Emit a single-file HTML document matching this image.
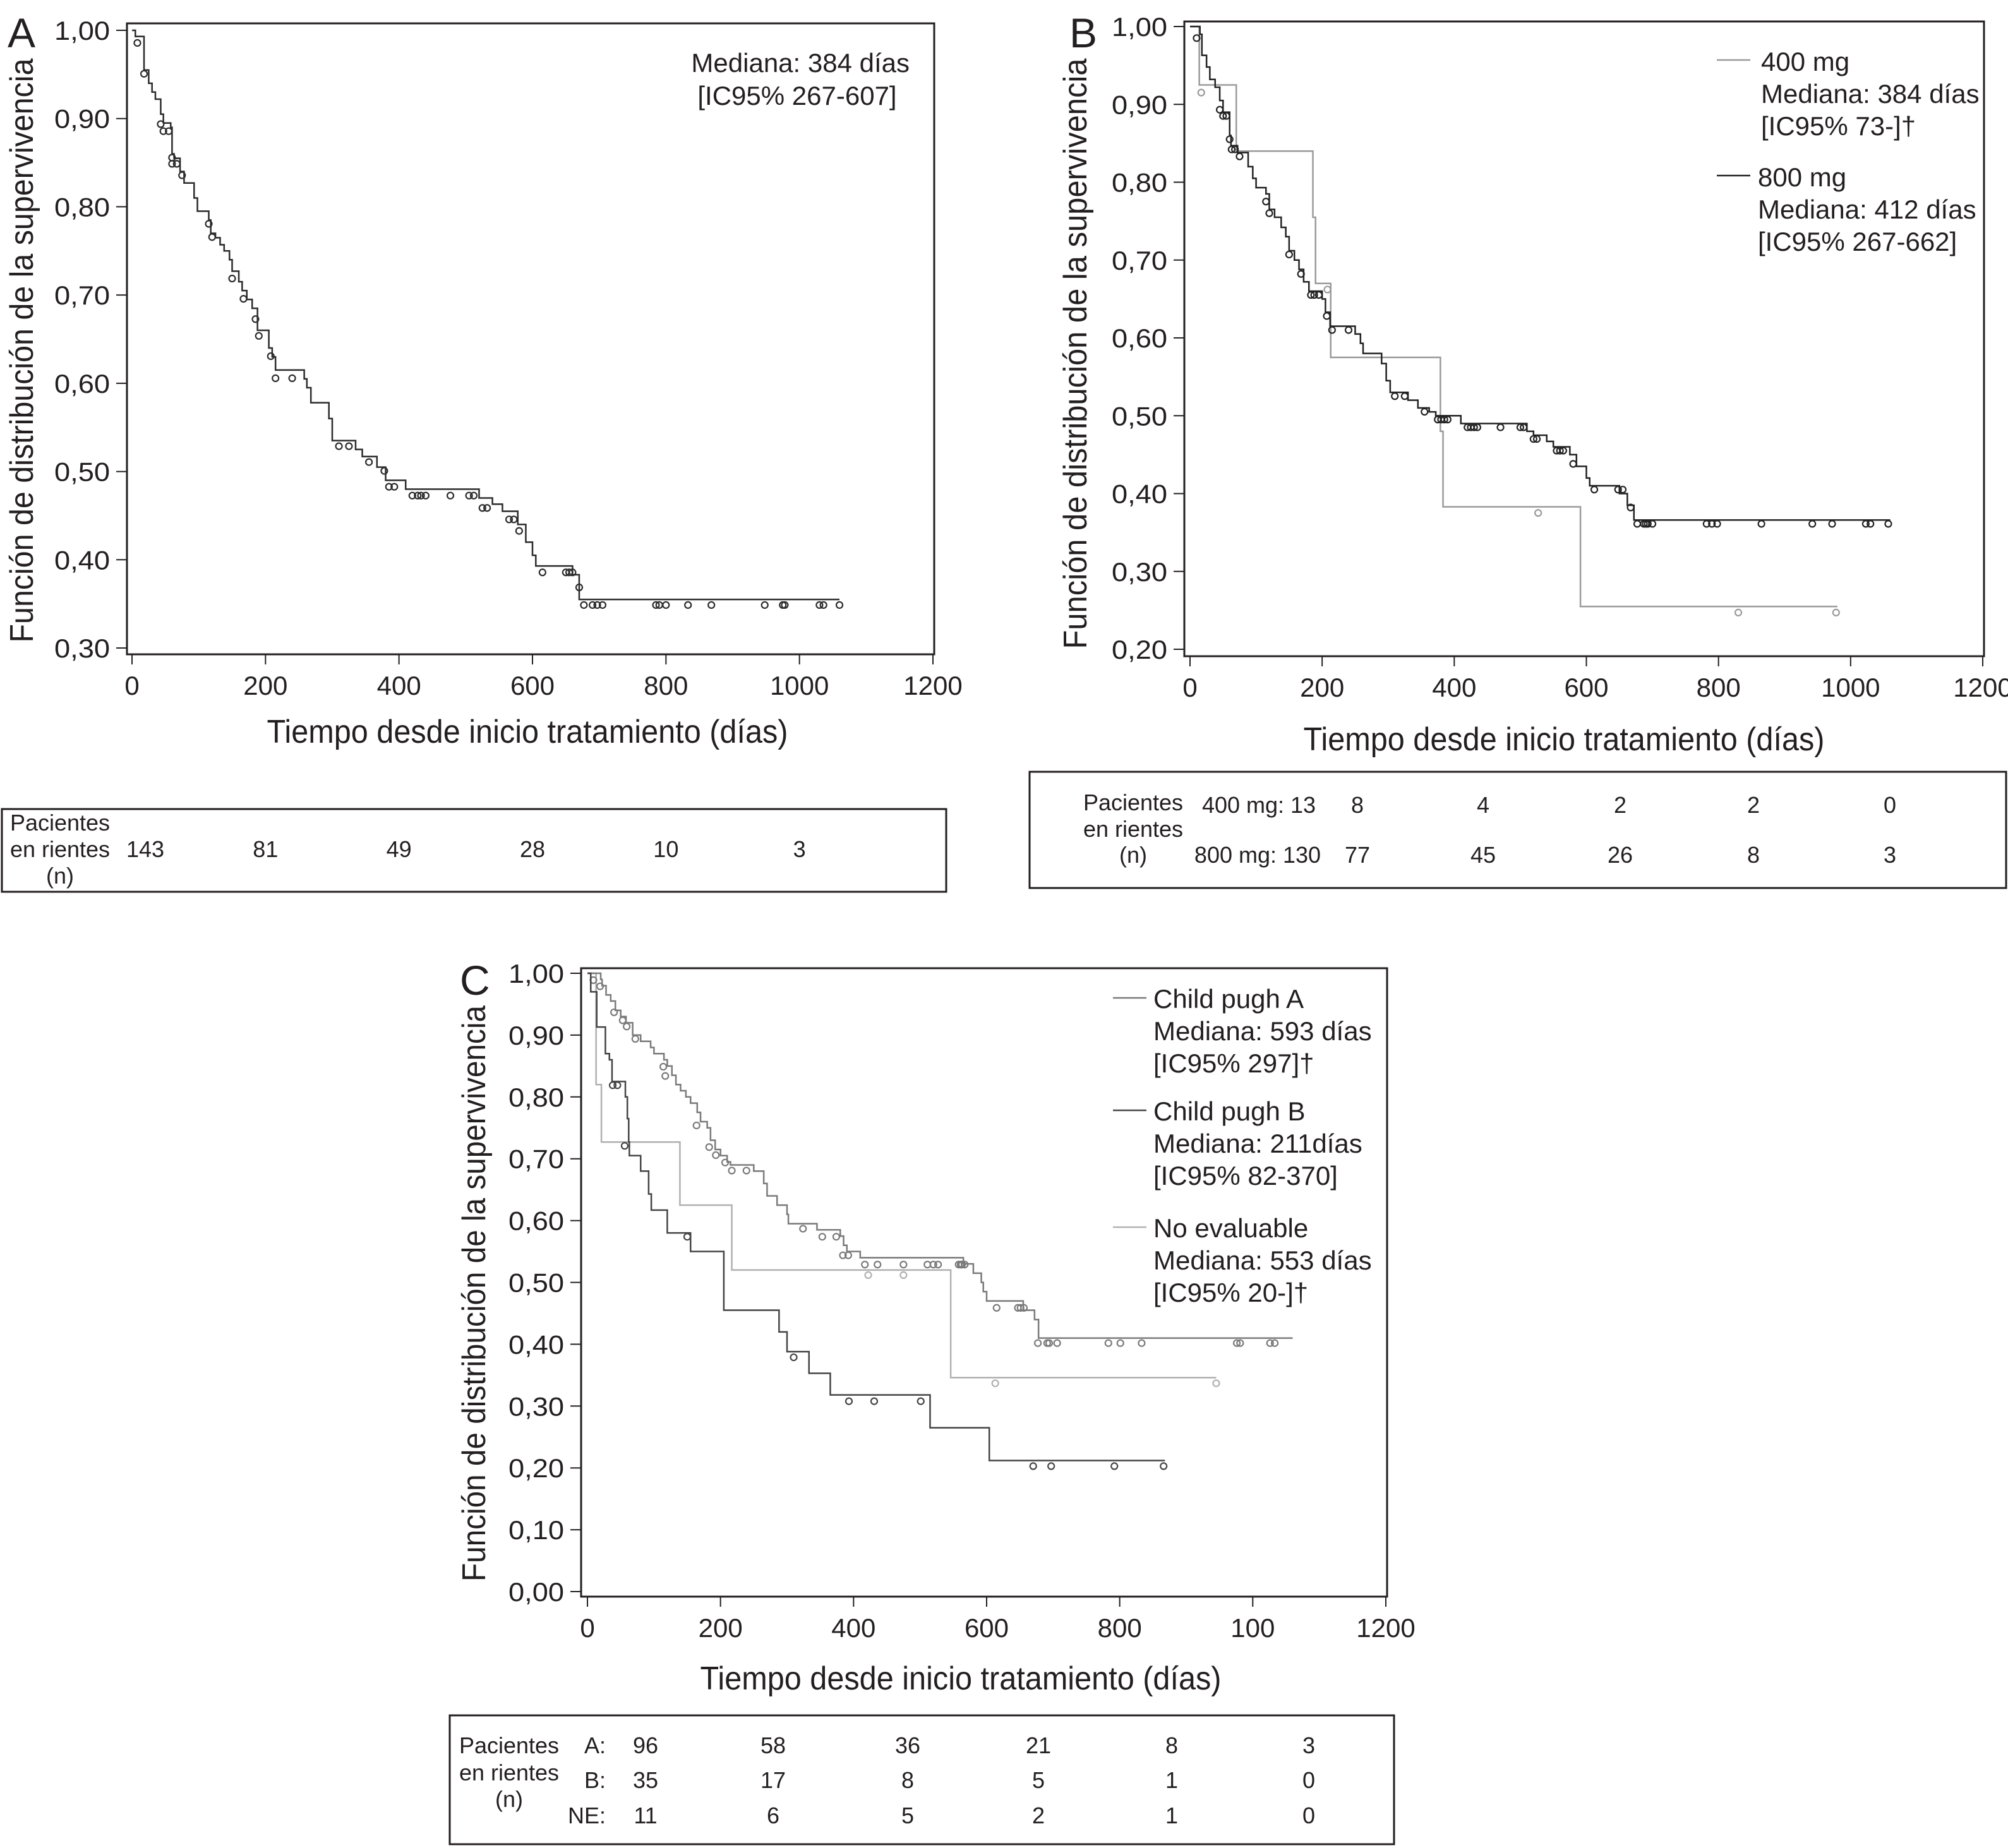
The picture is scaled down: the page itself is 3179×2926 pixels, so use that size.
<!DOCTYPE html>
<html><head><meta charset="utf-8"><style>
html,body{margin:0;padding:0;background:#fff}
svg{display:block}
text{font-family:"Liberation Sans",sans-serif;fill:#231f20}
</style></head><body>
<svg id="chart" width="3179" height="2926" viewBox="0 0 3179 2926" xmlns="http://www.w3.org/2000/svg">
<g id="gA"></g>
<g id="gB"></g>
<g id="gC"></g>
</svg>
<script>
// ---------- Panel A data ----------
const aTimes=[0,5,18,25,30,35,43,47,58,60,63,72,78,93,98,115,118,125,132,138,146,150,160,165,172,180,188,205,210,215,258,262,268,295,300,335,345,367,380,410,520,540,555,578,590,600,605,660,670,1060];
const aSurv=[1,0.993,0.955,0.94,0.93,0.922,0.905,0.895,0.89,0.86,0.855,0.84,0.827,0.81,0.795,0.785,0.77,0.765,0.757,0.75,0.74,0.727,0.715,0.705,0.695,0.685,0.66,0.64,0.63,0.615,0.605,0.595,0.578,0.56,0.535,0.525,0.517,0.505,0.49,0.48,0.47,0.463,0.455,0.44,0.42,0.405,0.393,0.383,0.355,0.355];
const aCensT=[8,18,43,47,55,60,60,67,75,115,120,150,167,185,190,208,215,240,310,325,355,378,385,393,420,428,433,440,477,505,512,525,532,565,572,580,615,650,655,660,670,677,690,697,705,785,790,800,833,868,948,975,978,1030,1036,1060];
const aCensS=[0.99,0.955,0.898,0.89,0.89,0.86,0.853,0.853,0.84,0.785,0.77,0.723,0.70,0.677,0.658,0.635,0.61,0.61,0.533,0.533,0.515,0.505,0.487,0.487,0.477,0.477,0.477,0.477,0.477,0.477,0.477,0.463,0.463,0.45,0.45,0.437,0.39,0.39,0.39,0.39,0.373,0.353,0.353,0.353,0.353,0.353,0.353,0.353,0.353,0.353,0.353,0.353,0.353,0.353,0.353,0.353];
const aRisk=[143,81,49,28,10,3];
// ---------- Panel B data ----------
const b800Times=[0,15,18,25,30,38,45,50,60,62,72,88,95,100,115,120,128,138,145,150,158,165,172,180,200,205,212,250,258,262,290,297,303,330,345,362,372,410,510,520,540,550,575,585,600,605,650,662,672,1060];
const b800Surv=[1,0.99,0.963,0.948,0.932,0.922,0.905,0.89,0.86,0.847,0.838,0.82,0.805,0.793,0.785,0.765,0.755,0.742,0.73,0.712,0.70,0.688,0.672,0.66,0.65,0.633,0.615,0.605,0.593,0.58,0.567,0.545,0.53,0.52,0.51,0.505,0.50,0.49,0.48,0.475,0.467,0.46,0.45,0.435,0.42,0.41,0.40,0.385,0.366,0.366];
const b800CensT=[10,45,50,55,60,63,68,75,115,120,150,168,183,188,195,207,215,240,310,325,355,375,380,385,390,420,425,430,435,470,500,505,520,525,555,560,565,580,612,648,655,667,677,687,690,693,700,782,790,798,865,942,972,1023,1030,1057];
const b800CensS=[0.99,0.898,0.89,0.89,0.86,0.847,0.847,0.838,0.78,0.765,0.712,0.687,0.66,0.66,0.66,0.633,0.615,0.615,0.53,0.53,0.51,0.50,0.50,0.50,0.50,0.49,0.49,0.49,0.49,0.49,0.49,0.49,0.475,0.475,0.46,0.46,0.46,0.443,0.41,0.41,0.41,0.387,0.366,0.366,0.366,0.366,0.366,0.366,0.366,0.366,0.366,0.366,0.366,0.366,0.366,0.366];
const b400Times=[0,14,70,186,190,213,379,383,591,980];
const b400Surv=[1,0.925,0.84,0.755,0.67,0.575,0.48,0.383,0.255,0.255];
const b400CensT=[17,208,527,830,978];
const b400CensS=[0.92,0.667,0.38,0.252,0.252];
const b400Risk=[8,4,2,2,0];
const b800Risk=[77,45,26,8,3];
// ---------- Panel C data ----------
const cATimes=[0,20,22,28,35,42,50,58,68,80,95,100,115,120,127,133,140,148,155,165,170,180,185,192,200,210,215,250,265,270,285,300,302,345,380,385,390,410,565,580,592,595,600,655,672,678,1060];
const cASurv=[1,0.99,0.98,0.965,0.955,0.94,0.93,0.92,0.90,0.89,0.88,0.87,0.86,0.85,0.835,0.82,0.81,0.80,0.79,0.775,0.76,0.75,0.73,0.715,0.705,0.695,0.69,0.68,0.66,0.64,0.625,0.61,0.595,0.585,0.575,0.56,0.55,0.54,0.53,0.515,0.50,0.485,0.47,0.455,0.44,0.41,0.41];
const cACensT=[9,19,40,53,59,72,114,117,164,183,193,207,217,239,324,353,374,384,392,417,436,475,511,520,527,558,561,563,567,615,647,651,656,677,691,694,706,783,801,833,976,981,1026,1033];
const cACensS=[0.995,0.985,0.943,0.93,0.92,0.90,0.855,0.84,0.76,0.725,0.712,0.70,0.687,0.687,0.593,0.58,0.58,0.55,0.55,0.535,0.535,0.535,0.535,0.535,0.535,0.535,0.535,0.535,0.535,0.465,0.465,0.465,0.465,0.408,0.408,0.408,0.408,0.408,0.408,0.408,0.408,0.408,0.408,0.408];
const cBTimes=[0,5,14,27,33,37,57,60,62,63,80,92,96,120,155,205,288,300,333,365,515,604,868];
const cBSurv=[1,0.97,0.913,0.87,0.86,0.825,0.80,0.765,0.727,0.705,0.68,0.643,0.617,0.58,0.55,0.455,0.42,0.388,0.353,0.318,0.265,0.212,0.212];
const cBCensT=[38,45,56,150,310,393,431,501,670,697,792,866];
const cBCensS=[0.825,0.825,0.727,0.58,0.385,0.314,0.314,0.314,0.209,0.209,0.209,0.209];
const cNTimes=[0,13,21,139,217,546,945];
const cNSurv=[1,0.82,0.727,0.625,0.52,0.346,0.346];
const cNCensT=[422,475,613,945];
const cNCensS=[0.518,0.518,0.343,0.343];
const cARisk=[96,58,36,21,8,3];
const cBRisk=[35,17,8,5,1,0];
const cNRisk=[11,6,5,2,1,0];
const xTicks=[0,200,400,600,800,1000,1200];
const xTickLabelsC=["0","200","400","600","800","100","1200"];

const NS="http://www.w3.org/2000/svg";
function mk(parent,tag,attrs,txt){const e=document.createElementNS(NS,tag);for(const k in attrs)e.setAttribute(k,attrs[k]);if(txt!==undefined)e.textContent=txt;parent.appendChild(e);return e;}
function fmt(v){return v.toFixed(2).replace('.',',');}

function axes(g,P,yTicks,xLabels){
  const fr=mk(g,'rect',{x:P.fl,y:P.ft,width:P.fr-P.fl,height:P.fb-P.ft,fill:'none',stroke:'#231f20','stroke-width':3});
  
  yTicks.forEach(v=>{
    const y=P.sy(v);
    const t=mk(g,'line',{x1:P.fl-17,x2:P.fl,y1:y,y2:y,stroke:'#231f20','stroke-width':2});
    
    const l=mk(g,'text',{x:P.fl-27,y:y+15,'text-anchor':'end','font-size':42,textLength:88,lengthAdjust:'spacingAndGlyphs'},fmt(v));
    
  });
  xTicks.forEach((v,i)=>{
    const x=P.sx(v);
    const t=mk(g,'line',{x1:x,x2:x,y1:P.fb,y2:P.fb+16,stroke:'#231f20','stroke-width':2});
    
    const l=mk(g,'text',{x:x,y:P.fb+64,'text-anchor':'middle','font-size':42},xLabels[i]);
    
  });
  const xt=mk(g,'text',{x:P.xtx,y:P.xty,'text-anchor':'middle','font-size':52,textLength:825,lengthAdjust:'spacingAndGlyphs'},'Tiempo desde inicio tratamiento (días)');
  
  const yt=mk(g,'text',{x:0,y:0,'text-anchor':'middle','font-size':52,textLength:P.ylen,lengthAdjust:'spacingAndGlyphs',transform:`translate(${P.ytx},${P.yty}) rotate(-90)`},'Función de distribución de la supervivencia');
  
  const pl=mk(g,'text',{x:P.plx,y:P.ply,'font-size':66,'font-weight':'300'},P.label);
  
}
function curve(g,P,ts,ss,ct,cs,color,name){
  let d=`M${P.sx(ts[0])},${P.sy(ss[0])}`;
  for(let i=1;i<ts.length;i++){d+=` H${P.sx(ts[i])} V${P.sy(ss[i])}`;}
  const p=mk(g,'path',{d:d,fill:'none',stroke:color,'stroke-width':2.5});
  
  for(let i=0;i<ct.length;i++){
    const c=mk(g,'circle',{cx:P.sx(ct[i]),cy:P.sy(cs[i])+6,r:5,fill:'none',stroke:color,'stroke-width':2.2});
    
  }
}
function txt(g,x,y,s,size,anchor,name){const t=mk(g,'text',{x:x,y:y,'font-size':size,'text-anchor':anchor||'start'},s);return t;}
function box(g,x,y,w,h,name){const r=mk(g,'rect',{x:x,y:y,width:w,height:h,fill:'none',stroke:'#231f20','stroke-width':3});}

// Panel A
(function(){
  const g=document.getElementById('gA');
  const P={fl:201,fr:1479,ft:37,fb:1036,label:'A',plx:12,ply:75,xtx:835,xty:1176,ytx:52,yty:555,ylen:925,
    sx:t=>209+t*(1477-209)/1200, sy:s=>48+(1-s)*(1026-48)/0.7};
  axes(g,P,[1,0.9,0.8,0.7,0.6,0.5,0.4,0.3],xTicks.map(String));
  curve(g,P,aTimes,aSurv,aCensT,aCensS,'#2b2b2b','overall');
  txt(g,1440,114,'Mediana: 384 días',42,'end','median-label');
  txt(g,1262,166,'[IC95% 267-607]',42,'middle','ci-label');
  box(g,3,1281,1495,131,'risk-table');
  txt(g,95,1315,'Pacientes',36,'middle','risk-table-header');
  txt(g,95,1357,'en rientes',36,'middle','risk-table-header');
  txt(g,95,1399,'(n)',36,'middle','risk-table-header');
  aRisk.forEach((v,i)=>txt(g,P.sx(xTicks[i])+(i==0?21:0),1357,String(v),36,'middle','risk-count'));
})();
// Panel B
(function(){
  const g=document.getElementById('gB');
  const P={fl:1875,fr:3141,ft:34,fb:1039,label:'B',plx:1693,ply:75,xtx:2476,xty:1188,ytx:1720,yty:560,ylen:935,
    sx:t=>1884+t*(3139-1884)/1200, sy:s=>42+(1-s)*(1028-42)/0.8};
  axes(g,P,[1,0.9,0.8,0.7,0.6,0.5,0.4,0.3,0.2],xTicks.map(String));
  curve(g,P,b400Times,b400Surv,b400CensT,b400CensS,'#9a9a9a','400mg');
  curve(g,P,b800Times,b800Surv,b800CensT,b800CensS,'#222','800mg');
  let l=mk(g,'line',{x1:2718,x2:2771,y1:95,y2:95,stroke:'#9a9a9a','stroke-width':2.5});
  txt(g,2788,112,'400 mg',42,'start','legend-entry-400mg');
  txt(g,2788,163,'Mediana: 384 días',42,'start','legend-median-400mg');
  txt(g,2788,214,'[IC95% 73-]†',42,'start','legend-ci-400mg');
  l=mk(g,'line',{x1:2718,x2:2771,y1:278,y2:278,stroke:'#222','stroke-width':2.5});
  txt(g,2783,295,'800 mg',42,'start','legend-entry-800mg');
  txt(g,2783,346,'Mediana: 412 días',42,'start','legend-median-800mg');
  txt(g,2783,397,'[IC95% 267-662]',42,'start','legend-ci-800mg');
  box(g,1630,1222,1546,184,'risk-table');
  txt(g,1794,1283,'Pacientes',36,'middle','risk-table-header');
  txt(g,1794,1325,'en rientes',36,'middle','risk-table-header');
  txt(g,1794,1366,'(n)',36,'middle','risk-table-header');
  txt(g,1993,1287,'400 mg: 13',36,'middle','risk-row-label');
  txt(g,1991,1366,'800 mg: 130',36,'middle','risk-row-label');
  const cx=[2149,2348,2565,2776,2992];
  b400Risk.forEach((v,i)=>txt(g,cx[i],1287,String(v),36,'middle','risk-count-400mg'));
  b800Risk.forEach((v,i)=>txt(g,cx[i],1366,String(v),36,'middle','risk-count-800mg'));
})();
// Panel C
(function(){
  const g=document.getElementById('gC');
  const P={fl:920,fr:2196,ft:1533,fb:2528,label:'C',plx:728,ply:1575,xtx:1521,xty:2675,ytx:768,yty:2048,ylen:912,
    sx:t=>930+t*(2194-930)/1200, sy:s=>1541+(1-s)*(2520-1541)};
  axes(g,P,[1,0.9,0.8,0.7,0.6,0.5,0.4,0.3,0.2,0.1,0],xTickLabelsC);
  curve(g,P,cNTimes,cNSurv,cNCensT,cNCensS,'#b0b0b0','no-evaluable');
  curve(g,P,cATimes,cASurv,cACensT,cACensS,'#7a7a7a','child-pugh-a');
  curve(g,P,cBTimes,cBSurv,cBCensT,cBCensS,'#444','child-pugh-b');
  const leg=[['#7a7a7a',1580,['Child pugh A','Mediana: 593 días','[IC95% 297]†'],'child-pugh-a'],
             ['#444',1758,['Child pugh B','Mediana: 211días','[IC95% 82-370]'],'child-pugh-b'],
             ['#b0b0b0',1943,['No evaluable','Mediana: 553 días','[IC95% 20-]†'],'no-evaluable']];
  leg.forEach(L=>{
    const l=mk(g,'line',{x1:1762,x2:1815,y1:L[1],y2:L[1],stroke:L[0],'stroke-width':2.5});
    
    L[2].forEach((s,i)=>txt(g,1826,L[1]+16+i*51,s,42,'start','legend-entry-'+L[3]));
  });
  box(g,712,2716,1495,204,'risk-table');
  txt(g,806,2776,'Pacientes',36,'middle','risk-table-header');
  txt(g,806,2819,'en rientes',36,'middle','risk-table-header');
  txt(g,806,2861,'(n)',36,'middle','risk-table-header');
  txt(g,959,2776,'A:',36,'end','risk-row-label');
  txt(g,959,2831,'B:',36,'end','risk-row-label');
  txt(g,959,2887,'NE:',36,'end','risk-row-label');
  const cx=[1022,1224,1437,1644,1855,2072];
  cARisk.forEach((v,i)=>txt(g,cx[i],2776,String(v),36,'middle','risk-count-a'));
  cBRisk.forEach((v,i)=>txt(g,cx[i],2831,String(v),36,'middle','risk-count-b'));
  cNRisk.forEach((v,i)=>txt(g,cx[i],2887,String(v),36,'middle','risk-count-ne'));
})();
</script>
</body></html>
